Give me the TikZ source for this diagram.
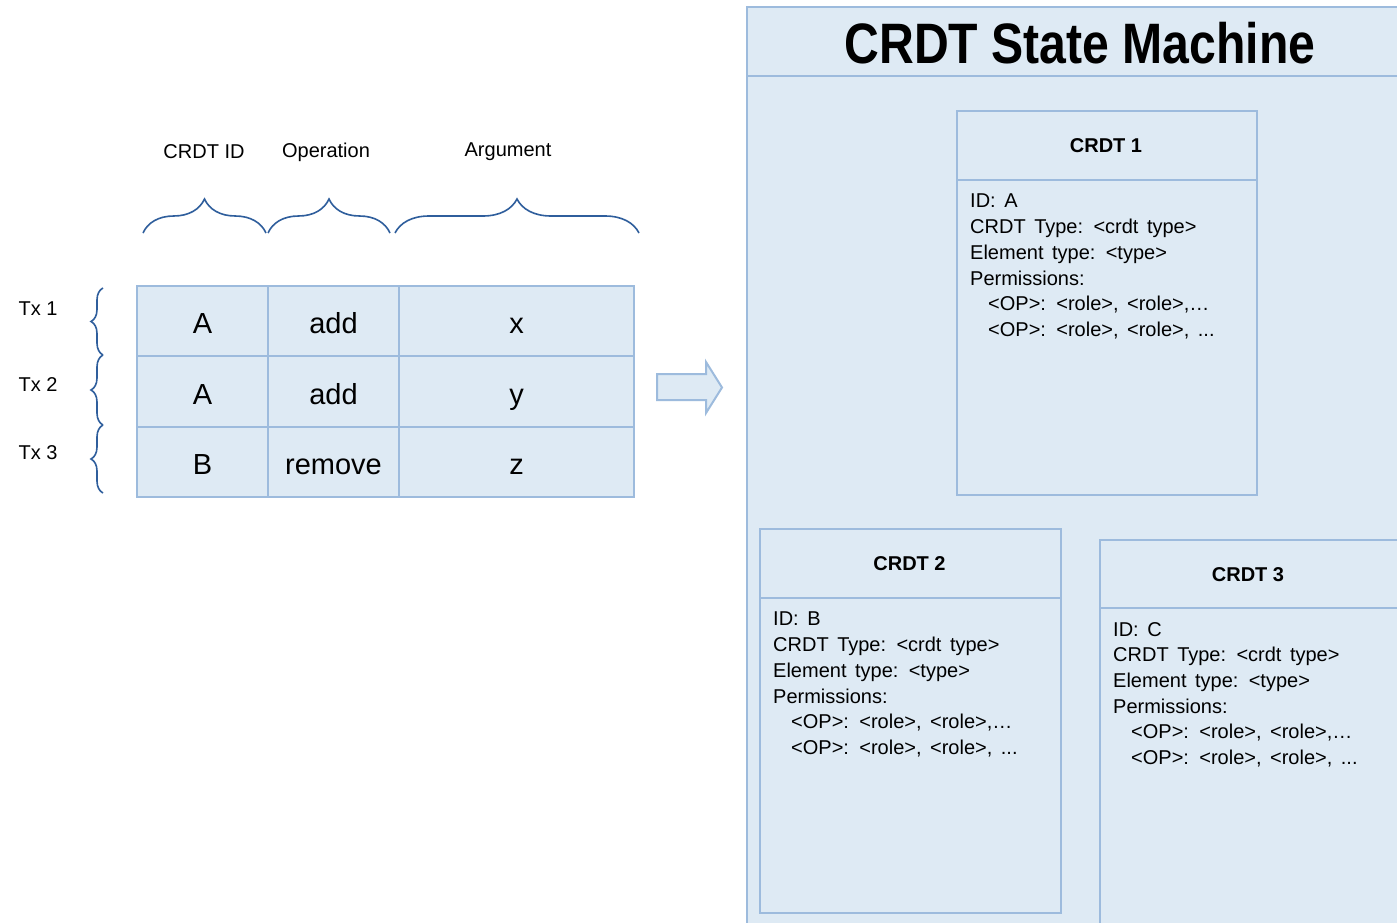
\documentclass[tikz,border=0pt]{standalone}
\usepackage{fontspec}
\setmainfont{Liberation Sans}
\usetikzlibrary{decorations.pathreplacing}
\definecolor{boxfill}{HTML}{DEEAF4}
\definecolor{boxline}{HTML}{9DBBDD}
\definecolor{bracecol}{HTML}{2F5E9C}
\newcommand\mywidespace{\spaceskip=8.5pt plus 2pt minus 1pt\relax}
\begin{document}
\begin{tikzpicture}[x=1pt,y=-1pt,
  panel/.style={draw=boxline, fill=boxfill, line width=2pt, rectangle, inner sep=0pt, anchor=north west},
  divider/.style={draw=boxline, line width=2pt},
  cell/.style={draw=boxline, fill=boxfill, line width=2pt, rectangle, inner sep=0pt, text height=25pt, text depth=0pt, font=\fontsize{29}{34}\selectfont},
  lbl/.style={inner sep=0pt, font=\fontsize{20}{24}\selectfont},
  boxtitle/.style={inner sep=0pt, font=\bfseries\fontsize{20}{24}\selectfont},
  boxbody/.style={inner sep=0pt, anchor=north west, align=left, font=\fontsize{20}{25.7}\selectfont\mywidespace},
  bracestyle/.style={draw=bracecol, line width=1.6pt, decorate},
  blockarrow/.style={draw=boxline, fill=boxfill, line width=2pt, line join=miter}
]
\clip (0,0) rectangle (1397,923);
\fill[white] (0,0) rectangle (1397,923);

% ---- transaction table ----
\node[cell, minimum width=131pt, minimum height=70pt] (a1) at (202.5,321) {A};
\node[cell, minimum width=131pt, minimum height=70pt] (b1) at (333.5,321) {add};
\node[cell, minimum width=235pt, minimum height=70pt] (c1) at (516.5,321) {x};
\node[cell, minimum width=131pt, minimum height=71pt] (a2) at (202.5,391.5) {A};
\node[cell, minimum width=131pt, minimum height=71pt] (b2) at (333.5,391.5) {add};
\node[cell, minimum width=235pt, minimum height=71pt] (c2) at (516.5,391.5) {y};
\node[cell, minimum width=131pt, minimum height=70pt] (a3) at (202.5,462) {B};
\node[cell, minimum width=131pt, minimum height=70pt] (b3) at (333.5,462) {remove};
\node[cell, minimum width=235pt, minimum height=70pt] (c3) at (516.5,462) {z};

% ---- column braces and labels ----
\draw[bracestyle, decoration={brace, amplitude=34pt}] (143,233) -- (266,233);
\draw[bracestyle, decoration={brace, amplitude=34pt}] (268,233) -- (390,233);
\draw[bracestyle, decoration={brace, amplitude=34pt}] (395,233) -- (639,233);
\node[lbl] (hid) at (204,152) {CRDT ID};
\node[lbl] (hop) at (326,152) {Operation};
\node[lbl] (harg) at (508,152) {Argument};

% ---- row braces and labels ----
\draw[bracestyle, decoration={brace, amplitude=12pt}] (103,355) -- (103,288);
\draw[bracestyle, decoration={brace, amplitude=12pt}] (103,425) -- (103,355);
\draw[bracestyle, decoration={brace, amplitude=12pt}] (103,493) -- (103,425);
\node[lbl] (tx1) at (38,309) {Tx 1};
\node[lbl] (tx2) at (38,385) {Tx 2};
\node[lbl] (tx3) at (38,453) {Tx 3};

% ---- block arrow ----
\draw[blockarrow] (657,374) -- (706,374) -- (706,362) -- (722,387.5) -- (706,413) -- (706,400) -- (657,400) -- cycle;

% ---- state machine ----
\node[panel, minimum width=665pt, minimum height=930pt] (sm) at (746,6) {};
\draw[divider] (746,76) -- (1405,76);
\node[inner sep=0pt, font=\bfseries\fontsize{57}{60}\selectfont] (smtitle) at (1080,43) {\scalebox{0.845}[1]{CRDT State Machine}};

% CRDT 1
\node[panel, minimum width=300pt, minimum height=384pt] (crdt1) at (956,110) {};
\draw[divider] (956,180) -- (1256,180);
\node[boxtitle] (t1) at (1106,146) {CRDT 1};
\node[boxbody] (b1txt) at (970,194) {ID: A\\CRDT Type: <crdt type>\\Element type: <type>\\Permissions:\\\hspace*{18pt}<OP>: <role>, <role>,…\\\hspace*{18pt}<OP>: <role>, <role>, ...};

% CRDT 2
\node[panel, minimum width=301pt, minimum height=384pt] (crdt2) at (759,528) {};
\draw[divider] (759,598) -- (1060,598);
\node[boxtitle] (t2) at (909.5,564) {CRDT 2};
\node[boxbody] (b2txt) at (773,612) {ID: B\\CRDT Type: <crdt type>\\Element type: <type>\\Permissions:\\\hspace*{18pt}<OP>: <role>, <role>,…\\\hspace*{18pt}<OP>: <role>, <role>, ...};

% CRDT 3
\node[panel, minimum width=320pt, minimum height=400pt] (crdt3) at (1099,539) {};
\draw[divider] (1099,608) -- (1420,608);
\node[boxtitle] (t3) at (1248,575) {CRDT 3};
\node[boxbody] (b3txt) at (1113,622) {ID: C\\CRDT Type: <crdt type>\\Element type: <type>\\Permissions:\\\hspace*{18pt}<OP>: <role>, <role>,…\\\hspace*{18pt}<OP>: <role>, <role>, ...};
\end{tikzpicture}
\end{document}
